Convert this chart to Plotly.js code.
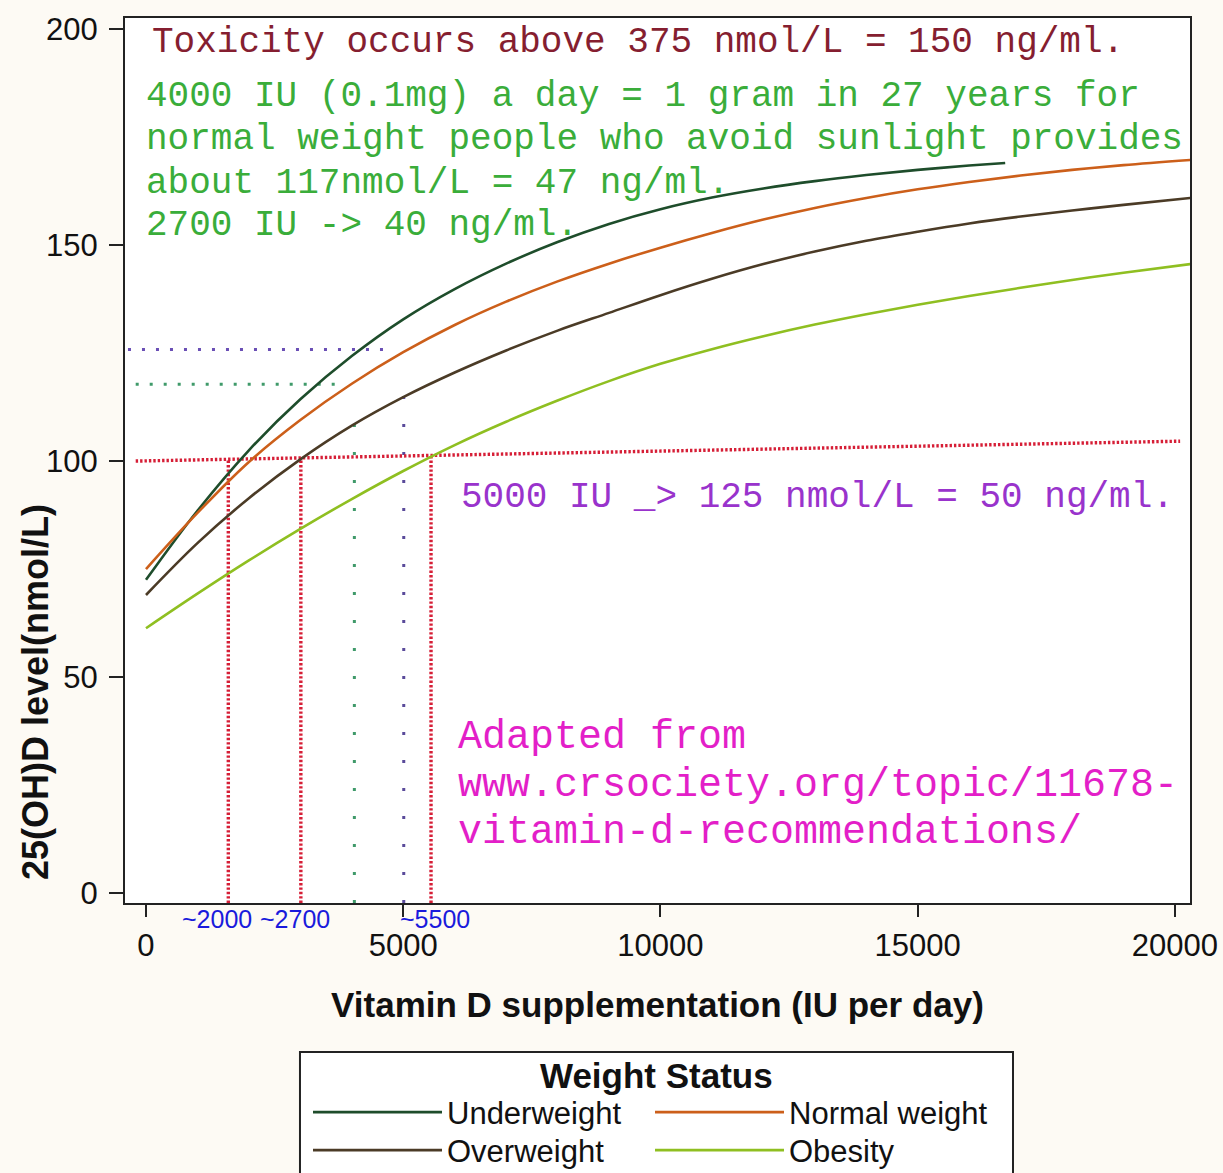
<!DOCTYPE html>
<html>
<head>
<meta charset="utf-8">
<script src="https://cdn.plot.ly/plotly-3.0.1.min.js"></script>
<style>
  html, body { margin: 0; padding: 0; background: #fdfaf4; }
  #chart { width: 1223px; height: 1173px; }
</style>
</head>
<body>
<div id="chart"></div>
<script>
// ---- Data ----
const seriesNames = ['Underweight', 'Normal weight', 'Overweight', 'Obesity'];
const seriesColors = ['#1e4d2b', '#cc5f1a', '#4b3b26', '#8fbf21'];
const seriesLegend = ['legend', 'legend2', 'legend3', 'legend4'];

const doseUnder = [0, 1000, 2000, 3000, 4000, 5000, 6000, 7000, 8000, 9000, 10000, 11000, 12000, 13000, 14000, 15000, 16000, 16700];
const levelUnder = [72.5, 88.5, 102.5, 114.3, 124.3, 132.8, 139.8, 145.7, 150.7, 154.9, 158.3, 161.0, 163.1, 164.8, 166.2, 167.4, 168.4, 169.0];

const doseAll = [0, 1000, 2000, 3000, 4000, 5000, 6000, 7000, 8000, 9000, 10000, 11000, 12000, 13000, 14000, 15000, 16000, 17000, 18000, 19000, 20300];
const levelNormal = [75, 88, 99.8, 109.5, 117.9, 125.2, 131.5, 136.9, 141.6, 145.7, 149.4, 152.8, 155.9, 158.6, 160.9, 162.9, 164.6, 166.1, 167.4, 168.5, 169.7];
const levelOver = [69, 81, 91.4, 100.4, 108.2, 114.8, 120.5, 125.6, 130.2, 134.3, 138.4, 142.2, 145.6, 148.5, 151.0, 153.1, 155.0, 156.6, 158.0, 159.3, 160.9];
const levelObese = [61.3, 69.3, 77.0, 84.3, 91.2, 97.7, 103.7, 109.1, 114.0, 118.5, 122.5, 125.9, 128.9, 131.6, 134.0, 136.2, 138.2, 140.1, 141.9, 143.6, 145.6];

// reference (dotted) guide lines
const thresholdX = [-200, 20100];
const thresholdY = [100, 104.6];
const redDoses = [1600, 3010, 5540];
const greenDose = 4050, greenLevel = 117.8;
const purpleDose = 5010, purpleLevel = 125.8;
const guideBottom = -2.3;

// tick labels and texts
const xTickVals = [0, 5000, 10000, 15000, 20000];
const yTickVals = [0, 50, 100, 150, 200];
const doseLabels = ['~2000', '~2700', '~5500'];
const doseLabelX = [1380, 2896, 5617];

const toxicityText = 'Toxicity occurs above 375 nmol/L = 150 ng/ml.';
const greenLines = [
  '4000 IU (0.1mg) a day = 1 gram in 27 years for',
  'normal weight people who avoid sunlight provides',
  'about 117nmol/L = 47 ng/ml.',
  '2700 IU -> 40 ng/ml.'
];
const greenLineY = [184.3, 174.4, 164.2, 154.5];
const purpleText = '5000 IU _> 125 nmol/L = 50 ng/ml.';
const sourceLines = ['Adapted from', 'www.crsociety.org/topic/11678-', 'vitamin-d-recommendations/'];
const sourceLineY = [36.1, 25.0, 14.1];
const legendTitle = 'Weight Status';

// ---- Traces ----
const traces = [];
const dataX = [doseUnder, doseAll, doseAll, doseAll];
const dataY = [levelUnder, levelNormal, levelOver, levelObese];

function guide(x, y, color, dash, width) {
  return {x: x, y: y, type: 'scatter', mode: 'lines', showlegend: false, hoverinfo: 'skip',
          line: {color: color, width: width || 3, dash: dash}};
}
traces.push(guide([-350, purpleDose - 250], [purpleLevel, purpleLevel], '#6a4fb5', '3px,11px'));
traces.push(guide([purpleDose, purpleDose], [guideBottom, 120], '#5a4a9a', '3px,25px'));
traces.push(guide([-200, greenDose - 300], [greenLevel, greenLevel], '#3f9a6a', '3px,11px'));
traces.push(guide([greenDose, greenDose], [guideBottom, 112], '#3f9a6a', '3px,25px'));
traces.push(guide(thresholdX, thresholdY, '#d61e36', '2.4px,2px', 3.4));
redDoses.forEach(function (d) {
  const top = thresholdY[0] + (thresholdY[1] - thresholdY[0]) * (d - thresholdX[0]) / (thresholdX[1] - thresholdX[0]);
  traces.push(guide([d, d], [guideBottom, top], '#d61e36', '2.4px,2px', 3.4));
});

for (let i = 0; i < seriesNames.length; i++) {
  traces.push({
    x: dataX[i], y: dataY[i], type: 'scatter', mode: 'lines', name: seriesNames[i],
    legend: seriesLegend[i],
    line: {color: seriesColors[i], width: 2.6, shape: 'spline', smoothing: 1}
  });
}

// ---- Annotations ----
const mono = 'Liberation Mono, Courier New, monospace';
const sans = 'Liberation Sans, Arial, sans-serif';
const annotations = [];
annotations.push({x: 70, y: 197.0, xref: 'x', yref: 'y', text: toxicityText, showarrow: false,
  xanchor: 'left', yanchor: 'middle', font: {family: mono, size: 36, color: '#851e30'}});
greenLines.forEach(function (t, i) {
  annotations.push({x: -30, y: greenLineY[i], xref: 'x', yref: 'y', text: t, showarrow: false,
    xanchor: 'left', yanchor: 'middle', font: {family: mono, size: 36, color: '#3aad3a'}});
});
annotations.push({x: 6080, y: 91.5, xref: 'x', yref: 'y', text: purpleText, showarrow: false,
  xanchor: 'left', yanchor: 'middle', font: {family: mono, size: 36, color: '#9933cc'}});
sourceLines.forEach(function (t, i) {
  annotations.push({x: 6030, y: sourceLineY[i], xref: 'x', yref: 'y', text: t, showarrow: false,
    xanchor: 'left', yanchor: 'middle', font: {family: mono, size: 40, color: '#e31fc8'}});
});
doseLabels.forEach(function (t, i) {
  annotations.push({x: doseLabelX[i], y: -0.0185, xref: 'x', yref: 'paper', text: t, showarrow: false,
    xanchor: 'center', yanchor: 'middle', font: {family: sans, size: 25, color: '#1a1adc'}});
});
// y axis title (placed low, as in the reference)
annotations.push({x: -0.0845, y: 0.2384, xref: 'paper', yref: 'paper', text: '<b>25(OH)D level(nmol/L)</b>',
  textangle: -90, showarrow: false, xanchor: 'center', yanchor: 'middle',
  font: {family: sans, size: 36, color: '#111'}});
// legend title
annotations.push({x: 0.4995, y: -0.1944, xref: 'paper', yref: 'paper', text: '<b>' + legendTitle + '</b>',
  showarrow: false, xanchor: 'center', yanchor: 'middle',
  font: {family: sans, size: 35, color: '#111'}});

// legend frame
const shapes = [{
  type: 'rect', xref: 'paper', yref: 'paper', x0: 0.1643, x1: 0.8338, y0: -0.1684, y1: -0.33,
  line: {color: '#222', width: 2}, fillcolor: '#ffffff', layer: 'above'
}];

const legendCommon = {
  orientation: 'v', yanchor: 'top', xanchor: 'left',
  bgcolor: 'rgba(0,0,0,0)', borderwidth: 0,
  font: {family: sans, size: 31, color: '#111'},
  itemwidth: 129, tracegroupgap: 0
};
const colLeft = [(308 - 125) / 1065, (650 - 125) / 1065];
const rowTop = [(903 - 1085.5) / 885, (903 - 1123.5) / 885];

const layout = {
  width: 1223, height: 1173,
  margin: {l: 125, r: 33, t: 18, b: 270, autoexpand: false},
  paper_bgcolor: '#fdfaf4',
  plot_bgcolor: '#ffffff',
  font: {family: sans, color: '#111'},
  showlegend: true,
  xaxis: {
    range: [-408, 20292], tickvals: xTickVals, tickformat: 'd',
    ticks: 'outside', ticklen: 12, tickwidth: 2, tickcolor: '#222',
    showline: true, linecolor: '#222', linewidth: 2, mirror: true,
    showgrid: false, zeroline: false, ticklabelstandoff: 2,
    tickfont: {family: sans, size: 31, color: '#111'},
    title: {text: '<b>Vitamin D supplementation (IU per day)</b>', standoff: 30,
            font: {family: sans, size: 35, color: '#111'}},
    automargin: false
  },
  yaxis: {
    range: [-2.3, 202.56], tickvals: yTickVals,
    ticks: 'outside', ticklen: 14, tickwidth: 2, tickcolor: '#222',
    showline: true, linecolor: '#222', linewidth: 2, mirror: true,
    showgrid: false, zeroline: false, ticklabelstandoff: 5,
    tickfont: {family: sans, size: 31, color: '#111'},
    automargin: false
  },
  legend: Object.assign({}, legendCommon, {x: colLeft[0], y: rowTop[0]}),
  legend2: Object.assign({}, legendCommon, {x: colLeft[1], y: rowTop[0]}),
  legend3: Object.assign({}, legendCommon, {x: colLeft[0], y: rowTop[1]}),
  legend4: Object.assign({}, legendCommon, {x: colLeft[1], y: rowTop[1]}),
  shapes: shapes,
  annotations: annotations
};

Plotly.newPlot('chart', traces, layout, {displayModeBar: false, staticPlot: true});
</script>
</body>
</html>
